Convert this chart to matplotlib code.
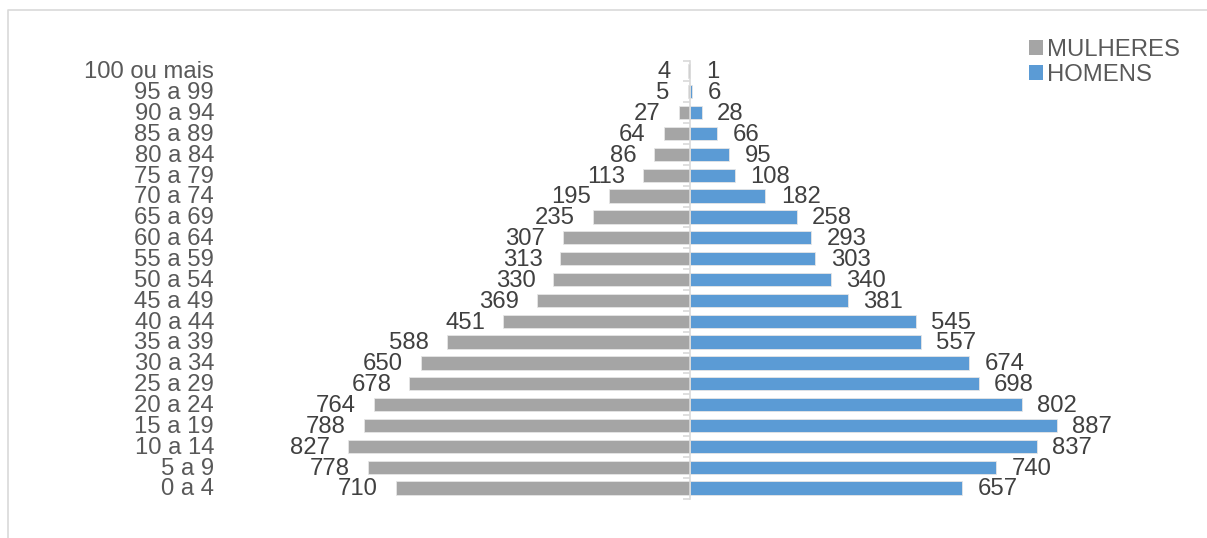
import matplotlib
matplotlib.use('Agg')
import matplotlib.pyplot as plt
from matplotlib.lines import Line2D
import numpy as np

plt.rcParams['font.family'] = ['Liberation Sans', 'DejaVu Sans']

faixas = ['0 a 4', '5 a 9', '10 a 14', '15 a 19', '20 a 24', '25 a 29', '30 a 34',
          '35 a 39', '40 a 44', '45 a 49', '50 a 54', '55 a 59', '60 a 64', '65 a 69',
          '70 a 74', '75 a 79', '80 a 84', '85 a 89', '90 a 94', '95 a 99', '100 ou mais']
mulheres = [710, 778, 827, 788, 764, 678, 650, 588, 451, 369, 330, 313, 307, 235,
            195, 113, 86, 64, 27, 5, 4]
homens = [657, 740, 837, 887, 802, 698, 674, 557, 545, 381, 340, 303, 293, 258,
          182, 108, 95, 66, 28, 6, 1]

cinza = '#a5a5a5'
azul = '#5b9bd5'
txt = '#595959'
fs = 17.2

fig = plt.figure(figsize=(12.07, 5.38), dpi=100)
W, H = 1207, 538
# moldura do grafico (so topo e esquerda aparecem)
fig.lines.append(Line2D([8/W, 8/W, 1.0], [0.0, (H-10)/H, (H-10)/H], transform=fig.transFigure,
                        color='#d9d9d9', lw=1.2))

x0, x1 = 225, 1180
y_top, y_bot = 60.5, 498.5
ax = fig.add_axes([x0/W, 1 - y_bot/H, (x1-x0)/W, (y_bot-y_top)/H])

esc = 0.414  # px por unidade
ax.set_xlim(-(690-x0)/esc, (x1-690)/esc)
ax.set_ylim(-0.5, len(faixas) - 0.5)

y = np.arange(len(faixas))
ax.barh(y, [-m for m in mulheres], height=0.64, color=cinza, edgecolor='#e6e6e6', lw=0.6, label='MULHERES')
ax.barh(y, homens, height=0.64, color=azul, edgecolor='#e6e6e6', lw=0.6, label='HOMENS')

for i in range(len(faixas)):
    ax.annotate(str(mulheres[i]), (-mulheres[i], y[i]), xytext=(-13, -1), textcoords='offset points',
                ha='right', va='center', fontsize=fs, color='#404040')
    ax.annotate(str(homens[i]), (homens[i], y[i]), xytext=(11, -1), textcoords='offset points',
                ha='left', va='center', fontsize=fs, color='#404040')
    ax.annotate(faixas[i], (-(690-214)/esc, y[i]), xytext=(0, -1), textcoords='offset points',
                ha='right', va='center', fontsize=fs, color=txt, annotation_clip=False)

for s in ['top', 'right', 'bottom']:
    ax.spines[s].set_visible(False)
ax.spines['left'].set_position(('data', 0))
ax.spines['left'].set_color('#d9d9d9')
ax.spines['left'].set_linewidth(1.2)
ax.set_xticks([])
ax.set_yticks(np.arange(-0.5, len(faixas), 1.0))
ax.set_yticklabels([])
ax.tick_params(axis='y', length=5, width=1.2, color='#d9d9d9', direction='out')

leg = ax.legend(loc='upper left', bbox_to_anchor=((1017-x0)/(x1-x0), (y_bot-27)/(y_bot-y_top)),
                frameon=False, fontsize=fs, handlelength=0.6, handleheight=0.6,
                handletextpad=0.15, labelspacing=0.12, borderpad=0)
for t in leg.get_texts():
    t.set_color(txt)
for h in leg.legend_handles:
    h.set_edgecolor('none')

fig.savefig('out.png', dpi=100)
